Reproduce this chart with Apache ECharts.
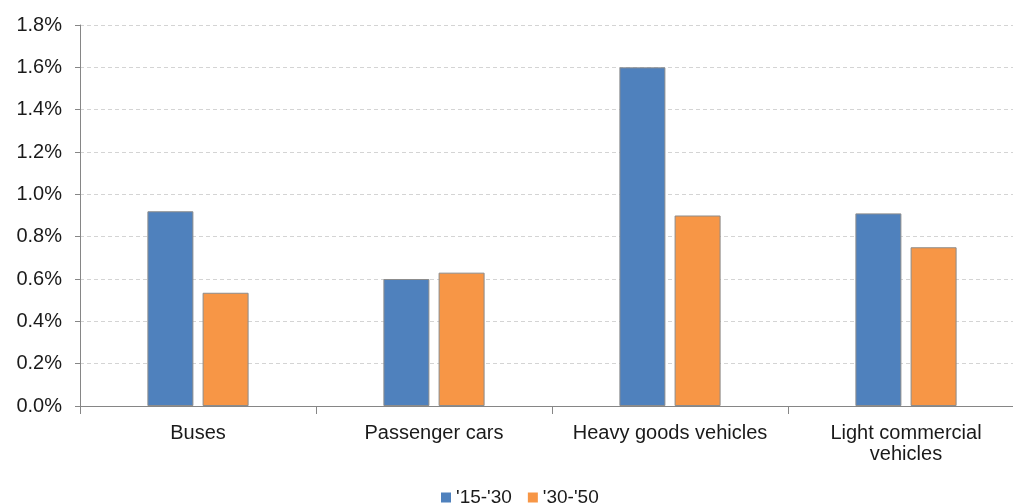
<!DOCTYPE html>
<html>
<head>
<meta charset="utf-8">
<script src="https://cdn.jsdelivr.net/npm/echarts@6/dist/echarts.min.js"></script>
<style>html,body{margin:0;padding:0;background:#fff;overflow:hidden;width:1013px;height:504px}#c{width:1024px;height:504px}</style>
</head>
<body>
<div id="c"></div>
<script>
const categories = ['Buses', 'Passenger cars', 'Heavy goods vehicles', 'Light commercial\nvehicles'];
const seriesNames = ["'15-'30", "'30-'50"];
const values1530 = [0.92, 0.60, 1.60, 0.91];
const values3050 = [0.535, 0.63, 0.90, 0.75];
const yTicks = [0, 0.2, 0.4, 0.6, 0.8, 1.0, 1.2, 1.4, 1.6, 1.8];

const chart = echarts.init(document.getElementById('c'), null, {renderer: 'canvas'});
const font = 'Liberation Sans, Arial, sans-serif';
chart.setOption({
  animation: false,
  backgroundColor: '#ffffff',
  grid: {left: 80, right: 0, top: 25, bottom: 98, containLabel: false},
  legend: {
    top: 483, left: 436,
    itemWidth: 10, itemHeight: 10, itemGap: 16, itemStyle: {borderWidth: 0},
    icon: 'rect',
    textStyle: {fontFamily: font, fontSize: 19, color: '#1a1a1a', padding: [2, 0, 0, 0]},
    data: seriesNames
  },
  xAxis: {
    type: 'category',
    data: categories,
    axisLine: {lineStyle: {color: '#868686', width: 1}},
    axisTick: {show: true, length: 8, alignWithLabel: false, lineStyle: {color: '#868686'}},
    axisLabel: {fontFamily: font, fontSize: 20, color: '#1a1a1a', margin: 17, lineHeight: 21, interval: 0}
  },
  yAxis: {
    type: 'value',
    min: yTicks[0], max: yTicks[yTicks.length - 1], interval: 0.2,
    axisLine: {show: true, lineStyle: {color: '#868686', width: 1}},
    axisTick: {show: true, length: 5, lineStyle: {color: '#868686'}},
    axisLabel: {fontFamily: font, fontSize: 20, color: '#1a1a1a', margin: 18,
      formatter: v => v.toFixed(1) + '%'},
    splitLine: {show: true, lineStyle: {color: '#d4d4d4', type: [4, 3], width: 1}}
  },
  series: [
    {name: seriesNames[0], type: 'bar', data: values1530, barWidth: 46, barGap: '20%',
     itemStyle: {color: '#4f81bd', borderColor: '#8c8c8c', borderWidth: 1}},
    {name: seriesNames[1], type: 'bar', data: values3050, barWidth: 46, barGap: '20%',
     itemStyle: {color: '#f79646', borderColor: '#8c8c8c', borderWidth: 1}}
  ]
});
</script>
</body>
</html>
